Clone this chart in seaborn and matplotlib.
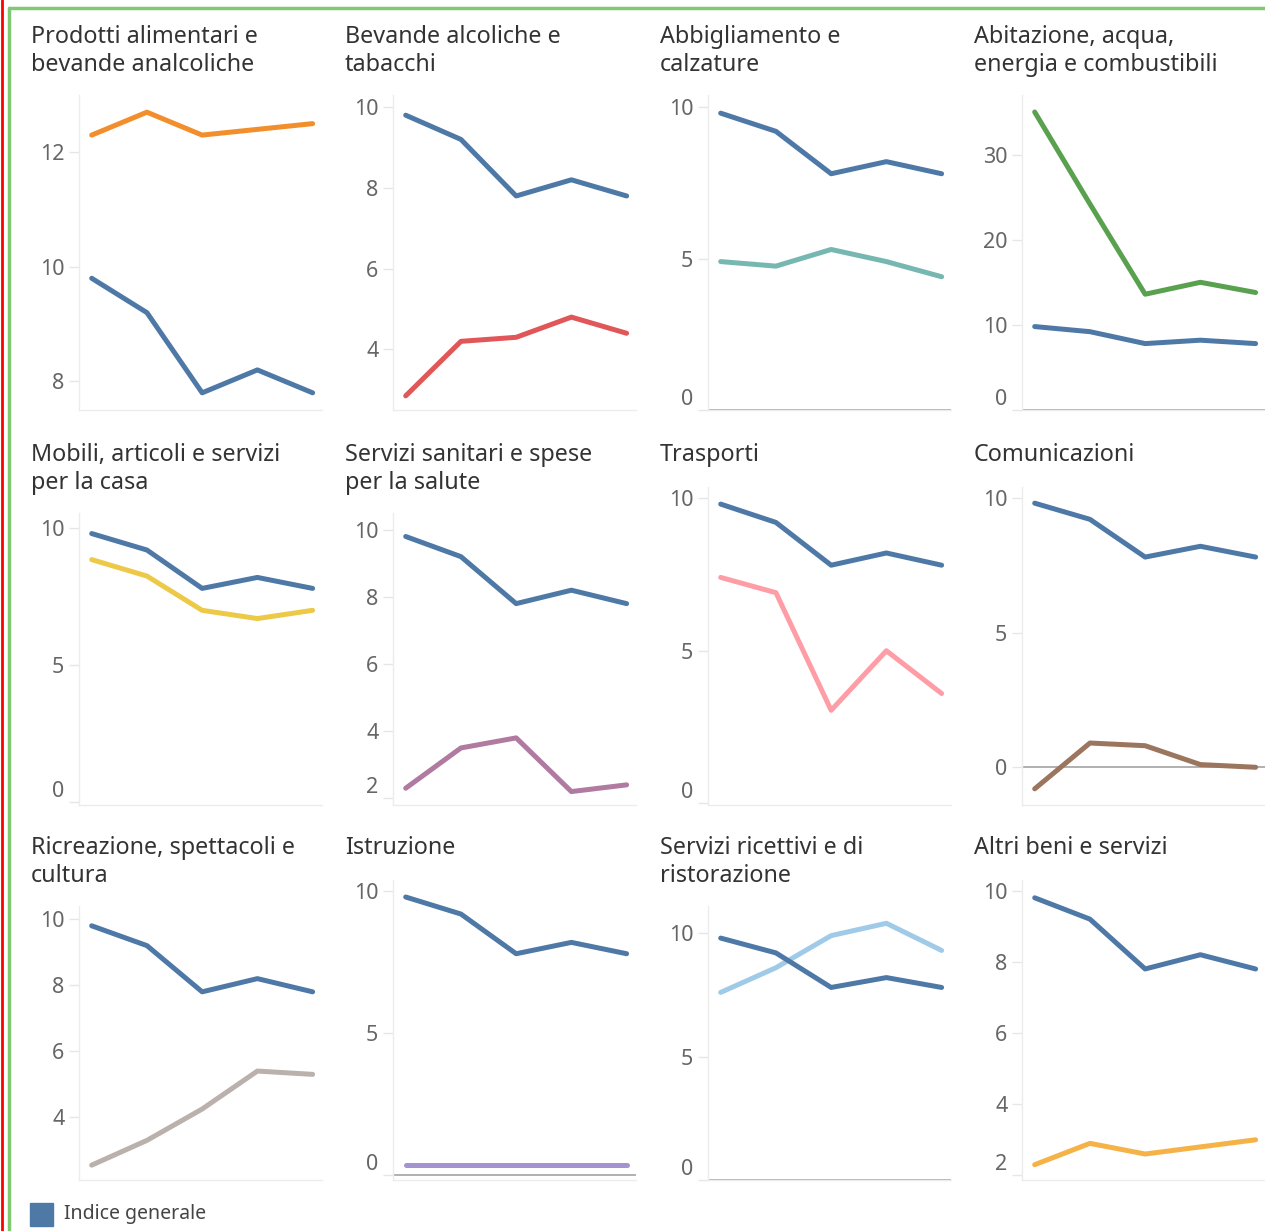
import matplotlib.pyplot as plt
import matplotlib.lines as mlines
import matplotlib.patches as mpatches
import seaborn as sns
import pandas as pd

periods = [1, 2, 3, 4, 5]
indice_generale = [9.8, 9.2, 7.8, 8.2, 7.8]

titles = [
    "Prodotti alimentari e\nbevande analcoliche",
    "Bevande alcoliche e\ntabacchi",
    "Abbigliamento e\ncalzature",
    "Abitazione, acqua,\nenergia e combustibili",
    "Mobili, articoli e servizi\nper la casa",
    "Servizi sanitari e spese\nper la salute",
    "Trasporti",
    "Comunicazioni",
    "Ricreazione, spettacoli e\ncultura",
    "Istruzione",
    "Servizi ricettivi e di\nristorazione",
    "Altri beni e servizi",
]

alimentari = [12.3, 12.7, 12.3, 12.4, 12.5]
alcoliche = [2.85, 4.2, 4.3, 4.8, 4.4]
abbigliamento = [4.9, 4.75, 5.3, 4.9, 4.4]
abitazione = [35.0, 24.2, 13.6, 15.0, 13.8]
mobili = [8.85, 8.25, 7.0, 6.7, 7.0]
sanitari = [2.3, 3.5, 3.8, 2.2, 2.4]
trasporti = [7.4, 6.9, 3.05, 5.0, 3.6]
comunicazioni = [-0.8, 0.9, 0.8, 0.1, 0.0]
ricreazione = [2.55, 3.3, 4.25, 5.4, 5.3]
istruzione = [0.35, 0.35, 0.35, 0.35, 0.35]
ricettivi = [7.6, 8.6, 9.9, 10.4, 9.3]
altri = [2.3, 2.9, 2.6, 2.8, 3.0]

category_values = [alimentari, alcoliche, abbigliamento, abitazione, mobili, sanitari,
                   trasporti, comunicazioni, ricreazione, istruzione, ricettivi, altri]

colors = ["#f28e2b", "#e15759", "#76b7b2", "#59a14f", "#edc948", "#b07aa1",
          "#ff9da7", "#9c755f", "#bab0ac", "#a394d0", "#a0cbe8", "#f5b247"]
blue = "#4e79a7"

yticks = [[8, 10, 12], [4, 6, 8, 10], [0, 5, 10], [0, 10, 20, 30],
          [0, 5, 10], [2, 4, 6, 8, 10], [0, 5, 10], [0, 5, 10],
          [4, 6, 8, 10], [0, 5, 10], [0, 5, 10], [2, 4, 6, 8, 10]]
ylims = [(7.5, 13.0), (2.5, 10.3), (0, 10.4), (0, 37.0),
         (-0.1, 10.55), (1.8, 10.5), (-0.05, 10.36), (-1.4, 10.4),
         (2.1, 10.4), (-0.18, 10.4), (0, 11.1), (1.87, 10.3)]
zero_line = [False, False, True, True, False, False, False, True,
             False, True, True, False]

rows = []
for title, vals in zip(titles, category_values):
    for p, g, v in zip(periods, indice_generale, vals):
        rows.append({"categoria": title, "periodo": p, "serie": "Indice generale", "valore": g})
        rows.append({"categoria": title, "periodo": p, "serie": title, "valore": v})
df = pd.DataFrame(rows)

sns.set_style("white")
plt.rcParams["font.family"] = ["Noto Sans", "DejaVu Sans"]

W, H = 1265, 1231
fig = plt.figure(figsize=(W / 100, H / 100), dpi=100)

# layout in pixels
col_left = [79, 393, 708, 1022]
ax_width = 243
row_title = [35, 453, 846]
row_bottom = [410, 805, 1180]

for i, title in enumerate(titles):
    r, c = divmod(i, 4)
    two_lines = "\n" in title
    top = row_title[r] + (60 if two_lines else 34)
    bottom = row_bottom[r]
    left = col_left[c]
    ax = fig.add_axes([left / W, 1 - bottom / H, ax_width / W, (bottom - top) / H])

    sub = df[df["categoria"] == title]
    sns.lineplot(data=sub, x="periodo", y="valore", hue="serie",
                 hue_order=[title, "Indice generale"],
                 palette={"Indice generale": blue, title: colors[i]},
                 linewidth=3.6, legend=False, ax=ax)

    ax.set_xlim(0.77, 5.17)
    ax.set_ylim(*ylims[i])
    ax.set_yticks(yticks[i])
    ax.set_xticks([])
    ax.set_xlabel("")
    ax.set_ylabel("")
    for s in ["top", "right"]:
        ax.spines[s].set_visible(False)
    ax.spines["left"].set_color("#ececec")
    ax.spines["bottom"].set_color("#ececec")
    ax.spines["left"].set_linewidth(1)
    ax.spines["bottom"].set_linewidth(1)
    if zero_line[i]:
        ax.axhline(0, color="#aaaaaa", linewidth=1.3, zorder=0)
    ax.tick_params(axis="y", length=7.5, width=1, color="#e6e6e6", pad=3,
                   labelsize=15.5, labelcolor="#666666", left=True)
    lo, hi = ylims[i]
    for t, lab in zip(yticks[i], ax.get_yticklabels()):
        if (t - lo) / (hi - lo) < 0.04:
            lab.set_verticalalignment("bottom")

    fig.text((left - 48) / W, 1 - (row_title[r] - 10) / H, title,
             ha="left", va="top", fontsize=16.8, color="#333333", linespacing=1.22)

# legend
fig.patches.append(mpatches.Rectangle((30 / W, 1 - 1226 / H), 23 / W, 23 / H,
                                      transform=fig.transFigure, color=blue))
fig.text(64 / W, 1 - 1214 / H, "Indice generale", ha="left", va="center",
         fontsize=14, color="#444444")

# frame lines
fig.add_artist(mlines.Line2D([2 / W, 2 / W], [0, 1], color="#ff0000", linewidth=2))
fig.add_artist(mlines.Line2D([9 / W, 9 / W], [0, 1 - 8 / H], color="#80c872", linewidth=2.5))
fig.add_artist(mlines.Line2D([9 / W, 1], [1 - 8 / H, 1 - 8 / H], color="#80c872", linewidth=2.5))

fig.savefig("out.png", dpi=100)
